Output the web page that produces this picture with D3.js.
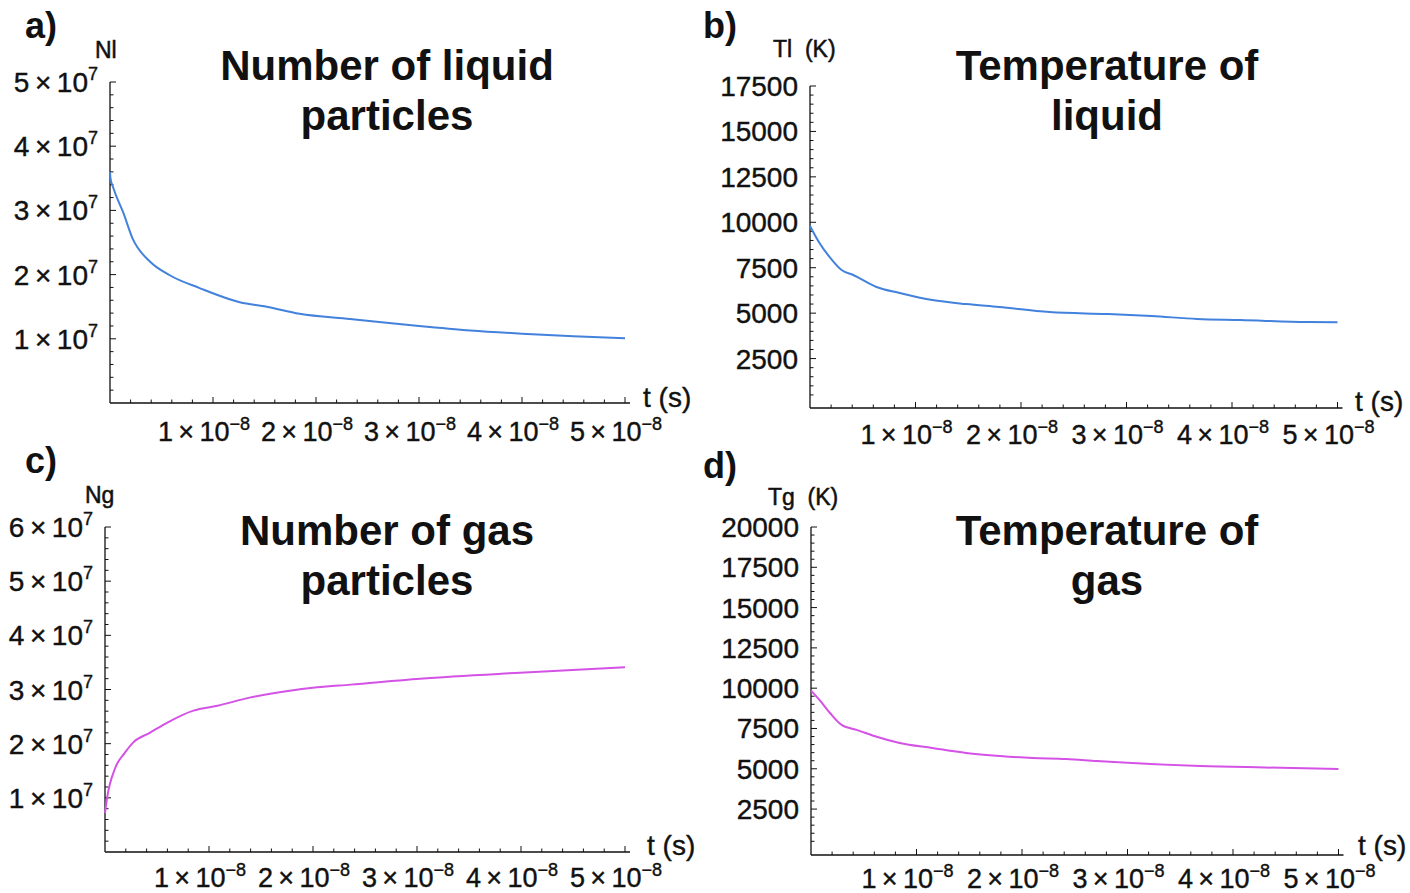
<!DOCTYPE html>
<html>
<head>
<meta charset="utf-8">
<script src="https://cdn.jsdelivr.net/npm/d3@7"></script>
<style>
  html, body { margin: 0; padding: 0; background: #fff; }
  svg { display: block; font-family: "Liberation Sans", Arial, sans-serif; }
</style>
</head>
<body>
<svg id="chart" width="1410" height="893"></svg>
<script>
// time axis ticks (s)
const timeTicks = [1e-8, 2e-8, 3e-8, 4e-8, 5e-8];

// a) number of liquid particles
const nlTime = [0, 0.005e-8, 0.03e-8, 0.13e-8, 0.22e-8, 0.39e-8, 0.58e-8, 0.87e-8, 1.26e-8, 1.52e-8, 1.84e-8, 2.33e-8, 3.0e-8, 3.5e-8, 4.0e-8, 4.5e-8, 5.0e-8];
const nlValues = [3.6e7, 3.5e7, 3.36e7, 2.96e7, 2.56e7, 2.2e7, 1.99e7, 1.79e7, 1.57e7, 1.5e7, 1.39e7, 1.31e7, 1.2e7, 1.13e7, 1.08e7, 1.04e7, 1.01e7];
const nlTicks = [1e7, 2e7, 3e7, 4e7, 5e7];

// b) temperature of liquid (K)
const tlTime = [0, 0.09e-8, 0.21e-8, 0.30e-8, 0.41e-8, 0.63e-8, 0.85e-8, 1.16e-8, 1.48e-8, 1.79e-8, 2.27e-8, 2.82e-8, 3.24e-8, 3.67e-8, 4.08e-8, 4.71e-8, 5.0e-8];
const tlValues = [9800, 8860, 7920, 7370, 7100, 6440, 6110, 5720, 5500, 5340, 5060, 4950, 4840, 4680, 4620, 4510, 4500];
const tlTicks = [2500, 5000, 7500, 10000, 12500, 15000, 17500];

// c) number of gas particles
const ngTime = [0, 0.02e-8, 0.1e-8, 0.19e-8, 0.27e-8, 0.43e-8, 0.6e-8, 0.85e-8, 1.08e-8, 1.39e-8, 1.71e-8, 2.04e-8, 2.36e-8, 3.03e-8, 3.99e-8, 5.0e-8];
const ngValues = [0.72e7, 1.0e7, 1.56e7, 1.83e7, 2.02e7, 2.2e7, 2.39e7, 2.61e7, 2.7e7, 2.85e7, 2.96e7, 3.04e7, 3.09e7, 3.2e7, 3.31e7, 3.41e7];
const ngTicks = [1e7, 2e7, 3e7, 4e7, 5e7, 6e7];

// d) temperature of gas (K)
const tgTime = [0, 0.08e-8, 0.18e-8, 0.29e-8, 0.44e-8, 0.63e-8, 0.84e-8, 1.15e-8, 1.47e-8, 1.79e-8, 2.10e-8, 2.42e-8, 2.71e-8, 3.69e-8, 4.3e-8, 5.0e-8];
const tgValues = [9850, 9270, 8460, 7720, 7400, 6970, 6600, 6290, 5980, 5790, 5670, 5610, 5480, 5170, 5080, 4990];
const tgTicks = [2500, 5000, 7500, 10000, 12500, 15000, 17500, 20000];

const BLUE = "#4382dc";
const MAGENTA = "#d452e6";

const panels = [
  { tag: "a)", tagX: 25, tagY: 38, title: ["Number of liquid", "particles"], titleX: 387, titleY: 80,
    yLabel: "Nl", yLabelX: 95, yLabelY: 58, time: nlTime, values: nlValues, yTicks: nlTicks, sci: true,
    yDomain: [0, 5e7], yRange: [403, 82], xStart: 110, xPerUnit: 103, minorY: 2e6, color: BLUE,
    tX: 643, tY: 407, labelY: 441 },
  { tag: "b)", tagX: 703, tagY: 38, title: ["Temperature of", "liquid"], titleX: 1107, titleY: 80,
    yLabel: "Tl  (K)", yLabelX: 773, yLabelY: 57, time: tlTime, values: tlValues, yTicks: tlTicks, sci: false,
    yDomain: [-220, 17500], yRange: [408, 86], xStart: 810, xPerUnit: 105.5, minorY: 500, color: BLUE,
    tX: 1355, tY: 411, labelY: 444 },
  { tag: "c)", tagX: 25, tagY: 473, title: ["Number of gas", "particles"], titleX: 387, titleY: 545,
    yLabel: "Ng", yLabelX: 85, yLabelY: 503, time: ngTime, values: ngValues, yTicks: ngTicks, sci: true,
    yDomain: [0, 6e7], yRange: [852, 527], xStart: 105, xPerUnit: 104, minorY: 2e6, color: MAGENTA,
    tX: 647, tY: 855, labelY: 887 },
  { tag: "d)", tagX: 703, tagY: 478, title: ["Temperature of", "gas"], titleX: 1107, titleY: 545,
    yLabel: "Tg  (K)", yLabelX: 768, yLabelY: 505, time: tgTime, values: tgValues, yTicks: tgTicks, sci: false,
    yDomain: [-350, 20000], yRange: [855, 527], xStart: 811, xPerUnit: 105.5, minorY: 500, color: MAGENTA,
    tX: 1358, tY: 855, labelY: 888 }
];

const svg = d3.select("#chart");

panels.forEach(p => {
  const g = svg.append("g");
  const x = d3.scaleLinear().domain([0, 5e-8]).range([p.xStart, p.xStart + 5 * p.xPerUnit]);
  const y = d3.scaleLinear().domain(p.yDomain).range(p.yRange);
  const x0 = x(0), yBase = y.range()[0], yTop = y.range()[1];
  const xEnd = x(5e-8) + 5;

  // axis lines
  g.append("line").attr("x1", x0).attr("x2", xEnd).attr("y1", yBase).attr("y2", yBase)
    .attr("stroke", "#111").attr("stroke-width", 1.3);
  g.append("line").attr("x1", x0).attr("x2", x0).attr("y1", yBase).attr("y2", yTop)
    .attr("stroke", "#111").attr("stroke-width", 1.3);

  // x ticks (major + minor, drawn inward)
  const xMinor = d3.range(1, 26).map(i => i * 0.2e-8);
  g.selectAll(".xt").data(xMinor).enter().append("line")
    .attr("x1", d => x(d)).attr("x2", d => x(d))
    .attr("y1", yBase).attr("y2", (d, i) => (i + 1) % 5 === 0 ? yBase - 6 : yBase - 3.5)
    .attr("stroke", "#111").attr("stroke-width", 1);

  // y ticks
  const yMinor = d3.range(1, Math.floor(p.yDomain[1] / p.minorY + 1e-6) + 1).map(i => i * p.minorY);
  g.selectAll(".yt").data(yMinor).enter().append("line")
    .attr("x1", x0).attr("x2", (d, i) => (i + 1) % 5 === 0 ? x0 + 6 : x0 + 3.5)
    .attr("y1", d => y(d)).attr("y2", d => y(d))
    .attr("stroke", "#111").attr("stroke-width", 1);

  // x tick labels
  timeTicks.forEach(t => {
    const txt = g.append("text").attr("x", x(t) - 9).attr("y", p.labelY)
      .attr("text-anchor", "middle").attr("font-size", 27).attr("fill", "#111")
      .attr("stroke", "#111").attr("stroke-width", 0.4);
    txt.append("tspan").text(d3.format(".0f")(t / 1e-8) + "\u2009\u00d7\u200910");
    txt.append("tspan").attr("dy", -11).attr("font-size", 18).text("\u22128");
  });

  // y tick labels
  p.yTicks.forEach(v => {
    const txt = g.append("text").attr("x", x0 - 12).attr("y", y(v) + 10)
      .attr("text-anchor", "end").attr("font-size", 28).attr("fill", "#111")
      .attr("stroke", "#111").attr("stroke-width", 0.4);
    if (p.sci) {
      txt.append("tspan").text(d3.format(".0f")(v / 1e7) + "\u2009\u00d7\u200910");
      txt.append("tspan").attr("dy", -12).attr("font-size", 18).text("7");
    } else {
      txt.text(v);
    }
  });

  // curve
  const pts = p.time.map((t, i) => [t, p.values[i]]);
  g.append("path").datum(pts)
    .attr("fill", "none").attr("stroke", p.color).attr("stroke-width", 2)
    .attr("d", d3.line().x(d => x(d[0])).y(d => y(d[1])).curve(d3.curveMonotoneX));

  // labels
  g.append("text").attr("x", p.tagX).attr("y", p.tagY)
    .attr("font-size", 36).attr("font-weight", "bold").attr("fill", "#111").text(p.tag);
  g.append("text").attr("x", p.yLabelX).attr("y", p.yLabelY)
    .attr("font-size", 23).attr("fill", "#111").attr("stroke", "#111").attr("stroke-width", 0.5)
    .style("white-space", "pre").text(p.yLabel);
  g.append("text").attr("x", p.tX).attr("y", p.tY)
    .attr("font-size", 28).attr("fill", "#111").attr("stroke", "#111").attr("stroke-width", 0.4)
    .text("t (s)");
  p.title.forEach((line, i) => {
    g.append("text").attr("x", p.titleX).attr("y", p.titleY + i * 50)
      .attr("text-anchor", "middle").attr("font-size", 42).attr("font-weight", "bold")
      .attr("fill", "#111").text(line);
  });
});
</script>
</body>
</html>
